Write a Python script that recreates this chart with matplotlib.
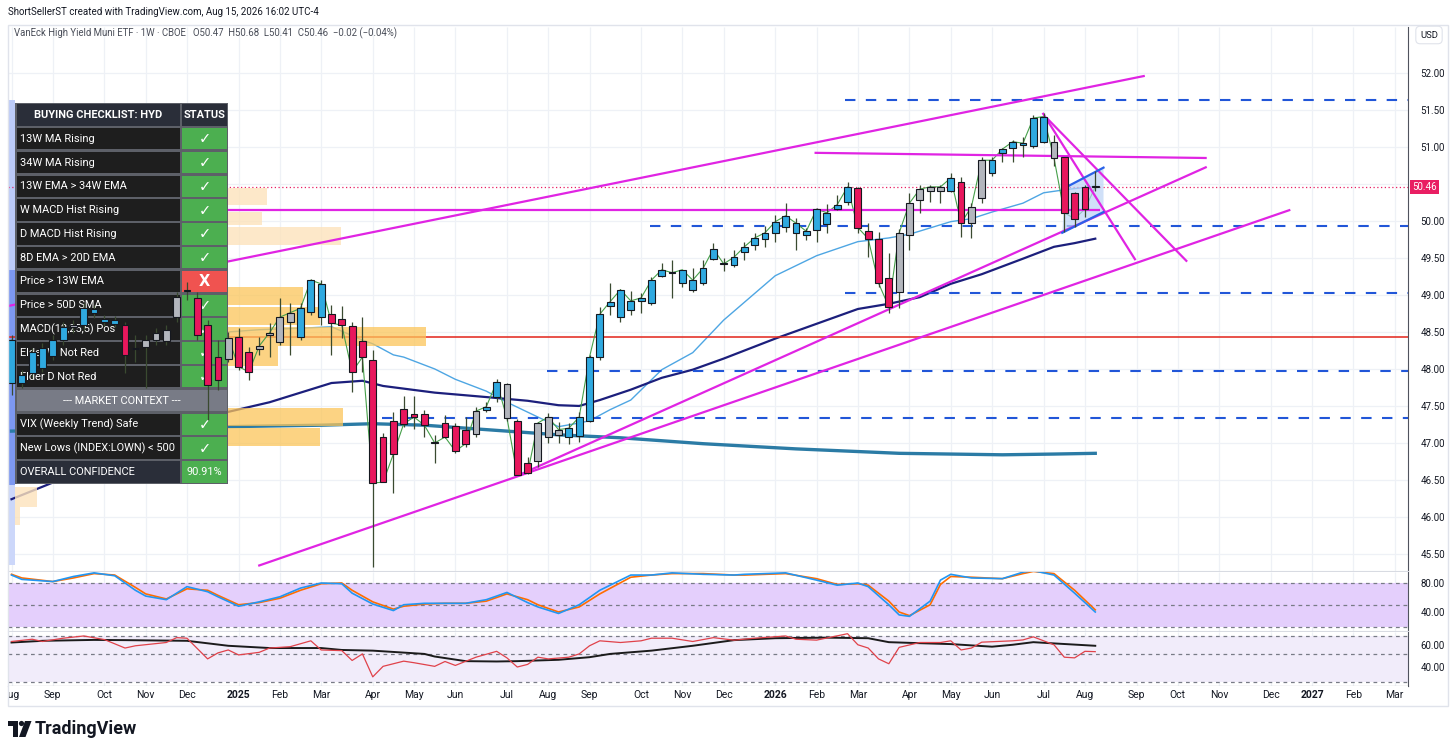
import numpy as np
import pandas as pd
import matplotlib
matplotlib.use("Agg")
import matplotlib.pyplot as plt
from matplotlib.patches import Rectangle, Polygon, Circle
from matplotlib.transforms import Affine2D

plt.rcParams['font.family'] = ['Roboto', 'DejaVu Sans']

W, H = 1456, 755
first_week = "2024-08-05"   # week index 0

# ---- weekly HYD bars (week 0 = 2024-08-05) ----
opens = [47.81, 47.81, 47.95, 48.01, 48.18, 48.39, 48.57, 48.59, 48.76, 48.64,
         48.61, 48.59, 48.28, 48.30, 48.39, 48.38, 48.70, 49.05, 48.96, 48.59,
         48.16, 48.14, 48.43, 48.23, 48.27, 48.46, 48.36, 48.64, 48.43, 48.77,
         48.70, 48.74, 48.68, 48.58, 48.38, 48.12, 47.08, 47.30, 47.46, 47.39,
         47.39, 47.00, 47.27, 47.23, 47.18, 47.12, 47.45, 47.62, 47.80, 47.30,
         46.73, 46.76, 47.08, 47.11, 47.08, 47.09, 47.30, 48.16, 48.85, 48.70,
         48.80, 48.92, 48.89, 49.26, 49.31, 49.16, 49.07, 49.16, 49.49, 49.43,
         49.41, 49.58, 49.68, 49.76, 49.84, 49.92, 49.84, 49.81, 49.88, 49.96,
         50.16, 50.26, 50.45, 49.86, 49.76, 49.23, 49.04, 49.81, 50.28, 50.41,
         50.41, 50.41, 50.53, 49.97, 50.31, 50.65, 50.92, 50.99, 51.03, 51.01,
         51.07, 51.07, 50.86, 50.38, 50.46, 50.47]
highs = [48.46, 47.99, 48.28, 48.35, 48.46, 48.64, 48.66, 48.89, 48.86, 48.73,
         48.72, 48.64, 48.46, 48.46, 48.55, 48.59, 49.04, 49.18, 49.04, 48.66,
         48.39, 48.50, 48.55, 48.30, 48.43, 48.62, 48.96, 48.89, 48.89, 49.22,
         49.20, 48.86, 48.85, 48.64, 48.70, 48.26, 47.14, 47.42, 47.64, 47.64,
         47.45, 47.11, 47.38, 47.27, 47.35, 47.49, 47.55, 47.86, 47.81, 47.32,
         46.81, 47.28, 47.41, 47.28, 47.27, 47.42, 48.19, 48.84, 49.16, 49.08,
         49.05, 49.03, 49.24, 49.43, 49.47, 49.34, 49.36, 49.47, 49.70, 49.50,
         49.61, 49.72, 49.84, 49.93, 50.08, 50.24, 50.04, 49.91, 50.18, 50.23,
         50.35, 50.53, 50.46, 49.97, 49.85, 49.57, 49.89, 50.38, 50.49, 50.49,
         50.49, 50.65, 50.59, 50.24, 50.86, 50.86, 50.99, 51.09, 51.14, 51.43,
         51.46, 51.16, 50.86, 50.39, 50.49, 50.68]
lows = [47.65, 47.74, 47.88, 47.96, 48.12, 48.32, 48.49, 48.53, 48.69, 48.58,
        48.57, 47.95, 48.09, 47.74, 48.32, 48.32, 48.64, 48.93, 48.39, 47.31,
        47.72, 48.09, 47.99, 47.85, 48.19, 48.16, 48.32, 48.19, 48.39, 48.73,
        48.59, 48.19, 48.42, 47.69, 47.96, 45.32, 46.47, 46.32, 47.22, 47.19,
        47.08, 46.73, 47.07, 46.86, 46.95, 47.08, 47.42, 47.55, 47.30, 46.57,
        46.58, 46.68, 47.00, 47.00, 46.99, 47.01, 47.28, 48.12, 48.73, 48.64,
        48.73, 48.76, 48.86, 49.24, 48.96, 49.11, 49.04, 49.14, 49.47, 49.32,
        49.38, 49.47, 49.61, 49.65, 49.72, 49.85, 49.61, 49.74, 49.72, 49.84,
        50.15, 50.22, 49.84, 49.51, 49.11, 48.76, 48.82, 49.61, 50.11, 50.26,
        50.24, 50.39, 49.78, 49.77, 50.24, 50.61, 50.80, 50.80, 50.86, 50.99,
        51.05, 50.74, 49.85, 49.92, 50.05, 50.41]
closes = [48.39, 47.92, 48.23, 48.28, 48.39, 48.57, 48.59, 48.82, 48.81, 48.68,
          48.66, 48.19, 48.27, 48.39, 48.49, 48.53, 48.97, 49.07, 48.46, 47.78,
          47.85, 48.42, 48.03, 47.96, 48.31, 48.49, 48.70, 48.76, 48.82, 49.20,
          49.15, 48.62, 48.59, 47.96, 48.16, 46.46, 46.47, 46.85, 47.26, 47.35,
          47.24, 47.00, 47.08, 46.89, 46.99, 47.43, 47.49, 47.82, 47.34, 46.57,
          46.59, 47.27, 47.35, 47.18, 47.20, 47.35, 48.16, 48.74, 48.91, 49.07,
          48.92, 48.96, 49.20, 49.34, 49.30, 49.34, 49.20, 49.36, 49.62, 49.42,
          49.51, 49.65, 49.77, 49.84, 49.99, 50.07, 49.97, 49.86, 50.16, 50.11,
          50.22, 50.46, 49.91, 49.76, 49.16, 48.84, 49.84, 50.24, 50.43, 50.46,
          50.46, 50.58, 49.97, 50.19, 50.82, 50.82, 50.97, 51.07, 51.05, 51.39,
          51.41, 50.85, 50.11, 50.03, 50.16, 50.46]
# bar colouring state: B = blue, R = red, G = grey
bar_state = ("BBBBBB" "G" "BBBB" "R" "GGGGGG" "RRR" "G" "RR" "GGGG" "BBB"
             "RRRRRRRRRR" "G" "RRR" "G" "BB" "G" "RR" "GGG" "BBBBBBBBBB" "G"
             "BBBB" "G" "BBBBBBBBBBBB" "RRRR" "GGGGG" "B" "R" "GG" "BBBBBB"
             "G" "RRR" "G")

# moving averages (week index, price)
ema_w = [21, 24, 28, 31, 34, 35, 37, 38, 41, 43, 46, 48, 51, 53, 55, 56, 58, 60, 63, 66,
         69, 74, 78, 82, 85, 87, 91, 93, 95, 98, 100, 102, 105]
ema_v = [48.50, 48.53, 48.55, 48.57, 48.39, 48.34, 48.19, 48.16, 48.00, 47.86, 47.70, 47.55,
         47.35, 47.22, 47.27, 47.30, 47.45, 47.58, 47.99, 48.22, 48.66, 49.26, 49.53, 49.72,
         49.77, 49.82, 49.99, 50.03, 50.12, 50.24, 50.38, 50.42, 50.47]
sma34_w = [0, 21, 25, 31, 34, 36, 41, 46, 50, 53, 55, 57, 60, 63, 66, 69, 74, 78, 82, 85,
           88, 91, 94, 98, 101, 103, 105]
sma34_v = [46.24, 47.42, 47.55, 47.81, 47.84, 47.77, 47.68, 47.62, 47.57, 47.51, 47.50, 47.58,
           47.72, 47.88, 47.99, 48.14, 48.41, 48.61, 48.81, 48.88, 48.97, 49.15, 49.28, 49.49,
           49.65, 49.70, 49.76]
sma200_w = [0, 21, 30, 35, 40, 46, 53, 59, 67, 76, 86, 96, 101, 105]
sma200_v = [47.16, 47.22, 47.24, 47.26, 47.24, 47.18, 47.11, 47.07, 46.99, 46.92, 46.86, 46.84,
            46.85, 46.86]

# drawings
red_level = 48.43
dash_levels = [51.64, 49.93, 49.03, 47.97, 47.34]
dash_starts = [80.8, 61.9, 80.8, 51.9, 35.9]
trend_lines = {
    "upper_channel": ([-0.34, 109.8], [48.85, 51.96]),
    "lower_channel": ([23.9, 123.9], [45.34, 50.15]),
    "mid_rising": ([48.9, 115.8], [46.55, 50.73]),
    "top_flat": ([77.8, 115.8], [50.92, 50.85]),
    "mid_flat": ([1.0, 105.5], [50.15, 50.15]),
    "desc_a": ([99.9, 108.9], [51.46, 49.47]),
    "desc_b": ([100.3, 113.9], [51.39, 49.45]),
}
flag_upper = ([102.1, 105.8], [50.45, 50.72])
flag_lower = ([101.8, 105.8], [49.84, 50.12])
last_price = 50.46

# volume profile rows
vp_top = [50.45, 50.12, 49.92, 49.11, 48.84, 48.57, 48.31, 47.47, 47.20, 46.41, 46.14]
vp_bot = [50.22, 49.95, 49.68, 48.86, 48.59, 48.31, 48.04, 47.23, 46.96, 46.14, 45.89]
vp_end = [24.8, 24.3, 31.9, 28.2, 29.9, 40.2, 25.8, 32.1, 29.9, 2.5, 0.8]
vp_dark = [False, False, False, True, True, True, True, True, True, False, False]
strip_top = [51.64, 49.34, 46.43]
strip_bot = [49.34, 46.43, 45.35]
strip_col = ['#bccbf8', '#7d98f1', '#ccd7fa']

# stochastic pane
stoch_w = [0, 1, 4, 6, 8, 10, 12, 13, 15, 17, 19, 20, 22, 24, 26, 28, 30, 32, 33, 35,
           37, 38, 40, 42, 44, 46, 48, 50, 51, 53, 55, 57, 60, 62, 64, 67, 70, 71, 75, 78,
           80, 82, 83, 85, 86, 87, 89, 90, 91, 93, 96, 98, 99, 101, 103, 105]
stoch_k = [91, 85, 82, 89, 94, 90, 70, 62, 57, 75, 68, 61, 48, 54, 61, 73, 80, 79, 66, 51,
           42, 50, 52, 52, 52, 57, 67, 53, 47, 38, 50, 70, 91, 91, 94, 92, 91, 92, 94, 84,
           77, 80, 75, 50, 36, 34, 55, 84, 92, 87, 86, 95, 97, 91, 66, 40]
stoch_d = [92, 87, 82, 87, 93, 91, 74, 65, 58, 72, 70, 63, 50, 53, 59, 70, 79, 80, 70, 54,
           44, 48, 51, 52, 52, 55, 65, 57, 50, 40, 47, 65, 88, 91, 93, 93, 91, 91, 93, 86,
           78, 79, 77, 55, 40, 35, 50, 78, 89, 88, 86, 93, 96, 93, 70, 43]

# RSI-style pane
rsi_w = [0, 2, 3, 5, 7, 9, 11, 12, 15, 16, 17, 19, 20, 21, 22, 24, 25, 27, 29, 30,
         32, 33, 34, 35, 36, 38, 39, 41, 42, 43, 45, 47, 48, 49, 50, 51, 52, 54, 55, 56,
         57, 59, 61, 62, 64, 66, 68, 70, 72, 75, 76, 78, 81, 82, 83, 84, 85, 86, 88, 90,
         91, 92, 93, 94, 97, 98, 99, 101, 102, 103, 104, 105]
rsi_v = [62.9, 64.9, 62.9, 65.8, 67.8, 64.6, 57.1, 59.1, 62.0, 66.3, 65.8, 47.5, 52.8, 55.4,
         51.0, 53.3, 57.1, 58.3, 63.5, 55.4, 54.8, 46.1, 51.9, 31.6, 40.9, 45.5, 44.1, 40.9,
         45.2, 41.7, 49.0, 54.2, 48.4, 40.3, 42.6, 49.0, 47.5, 49.0, 51.9, 59.1, 63.5, 62.0,
         63.5, 65.8, 65.8, 62.9, 66.3, 64.1, 65.8, 67.8, 64.9, 64.1, 69.8, 60.0, 57.1, 47.5,
         43.2, 57.7, 62.0, 62.0, 63.5, 55.4, 57.1, 62.3, 63.5, 64.3, 67.0, 60.0, 49.0, 48.4,
         54.2, 53.9]
sig_w = [0, 3, 8, 11, 17, 21, 25, 30, 32, 35, 40, 41, 44, 47, 49, 53, 56, 58, 62, 66,
         70, 74, 79, 83, 85, 88, 91, 95, 97, 99, 101, 105]
sig_v = [62.0, 63.5, 64.3, 64.1, 63.5, 59.1, 57.1, 57.1, 55.4, 54.8, 51.9, 49.6, 45.5, 45.2,
         45.5, 46.7, 49.0, 51.9, 54.8, 59.1, 64.1, 65.8, 66.3, 65.8, 62.3, 61.4, 60.6, 58.3,
         60.0, 62.3, 61.2, 59.1]

# checklist table
check_items = ["13W MA Rising", "34W MA Rising", "13W EMA > 34W EMA", "W MACD Hist Rising",
               "D MACD Hist Rising", "8D EMA > 20D EMA", "Price > 13W EMA", "Price > 50D SMA",
               "MACD(12,25,5) Pos", "Elder W Not Red", "Elder D Not Red"]
check_pass = [True, True, True, True, True, True, False, True, True, True, True]
context_items = ["VIX (Weekly Trend) Safe", "New Lows (INDEX:LOWN) < 500"]
context_pass = [True, True]
confidence = "90.91%"

# ---------------------------------------------------------------
fig = plt.figure(figsize=(W / 100, H / 100), dpi=100)
fig.patch.set_facecolor('white')
pix = Affine2D().scale(1.0 / W, -1.0 / H).translate(0, 1) + fig.transFigure


def box(x0, y0, x1, y1):
    return [x0 / W, 1 - y1 / H, (x1 - x0) / W, (y1 - y0) / H]


ax = fig.add_axes(box(8, 27, 1408, 571))
ax1 = fig.add_axes(box(8, 572, 1408, 631))
ax2 = fig.add_axes(box(8, 632, 1408, 686))
axd = fig.add_axes(box(8, 686, 1408, 706))
XL = (-0.34, 135.3)

# month ticks from weekly dates
wk_all = np.arange(-1, 136)
dates = pd.Timestamp(first_week) + pd.to_timedelta(7 * wk_all, unit="D")
tick_w, tick_lbl = [], []
for k in range(1, len(wk_all)):
    if dates[k].month != dates[k - 1].month:
        tick_w.append(wk_all[k])
        tick_lbl.append(str(dates[k].year) if dates[k].month == 1 else dates[k].strftime("%b"))

grid_c = '#eef1f6'
for a in (ax, ax1, ax2, axd):
    a.set_xlim(*XL)
    a.set_xticks([])
    for s in ('top', 'left'):
        a.spines[s].set_visible(False)
    a.spines['right'].set_color('#50535e')
    a.spines['bottom'].set_color('#d8dbe2')
for a in (ax, ax1, ax2):
    a.vlines(tick_w, 0, 1, transform=a.get_xaxis_transform(), colors=grid_c, lw=0.9, zorder=0)
    a.yaxis.tick_right()
    a.tick_params(axis='y', length=0, pad=9, labelsize=7, labelcolor='#131722')
ax2.spines['bottom'].set_color('#50535e')

# ---- main pane ----
ax.set_ylim(45.27, 52.62)
yt = np.arange(45.5, 52.01, 0.5)
ax.set_yticks(yt)
# 50.50 sits under the last-price tag, as on the chart
ax.set_yticklabels(["" if abs(v - 50.5) < 1e-6 else f"{v:.2f}" for v in yt])
ax.hlines(yt, 0, 1, transform=ax.get_yaxis_transform(), colors=grid_c, lw=0.9, zorder=0)

for t, b, c in zip(strip_top, strip_bot, strip_col):
    ax.add_patch(Rectangle((XL[0], b), 0.68, t - b, color=c, lw=0, zorder=1))

ax.plot(ema_w, ema_v, color='#4ea6e3', lw=1.0, zorder=2)
ax.plot(sma34_w, sma34_v, color='#1c1f7c', lw=1.6, zorder=2)
ax.plot(sma200_w, sma200_v, color='#2b7ba5', lw=2.4, zorder=2)

for t, b, e, d in zip(vp_top, vp_bot, vp_end, vp_dark):
    ax.add_patch(Rectangle((0.34, b), e - 0.34, t - b, color='#fbc55a' if d else '#fde3bc',
                           alpha=0.75 if d else 0.8, lw=0, zorder=3))

ax.axhline(red_level, color='#e2231a', lw=1.1, zorder=2.5)
for lv, st in zip(dash_levels, dash_starts):
    ax.hlines(lv, st, XL[1], colors='#2156d8', lw=1.5, linestyles=(0, (5, 5)), zorder=2.5)
for xs, ys in trend_lines.values():
    ax.plot(xs, ys, color='#e024e3', lw=1.6, zorder=3.8, solid_capstyle='butt')
ax.add_patch(Polygon([(flag_upper[0][0], flag_upper[1][0]), (flag_upper[0][1], flag_upper[1][1]),
                      (flag_lower[0][1], flag_lower[1][1]), (flag_lower[0][0], flag_lower[1][0])],
                     closed=True, fc='#bcd4f6', ec='none', alpha=0.7, zorder=3.7))
ax.plot(*flag_upper, color='#2a62e8', lw=1.6, zorder=3.9)
ax.plot(*flag_lower, color='#2a62e8', lw=1.6, zorder=3.9)
ax.axhline(last_price, color='#e91e63', lw=0.9, ls=(0, (1, 2)), zorder=2.5)

# candles
o, h, l, c = map(np.array, (opens, highs, lows, closes))
wk = np.arange(len(o))
body_colors = {'B': '#2fa9e0', 'R': '#e8175d', 'G': '#b3b6bd'}
ax.plot(wk, c, color='#46a04a', lw=0.8, zorder=3.5)
ax.vlines(wk, l, h, colors='#3a4a30', lw=0.9, zorder=5)
ax.bar(wk, np.maximum(np.abs(c - o), 0.012), width=0.66, bottom=np.minimum(o, c),
       color=[body_colors[s] for s in bar_state], edgecolor='#15181f', linewidth=0.8, zorder=6)

# checklist table (pixel coordinates)
tx0, tx1, tsplit, ttop, rh = 15, 228, 181, 103, 23.8
rows = [("BUYING CHECKLIST: HYD", "STATUS", 'head')]
rows += [(t, "\u2713" if p else "X", p) for t, p in zip(check_items, check_pass)]
rows += [("--- MARKET CONTEXT ---", None, 'ctx')]
rows += [(t, "\u2713" if p else "X", p) for t, p in zip(context_items, context_pass)]
rows += [("OVERALL CONFIDENCE", confidence, 'total')]
ax.add_patch(Rectangle((tx0, ttop), tx1 - tx0, rh * len(rows), transform=pix, fc='#5d6068',
                       ec='none', zorder=4, clip_on=False))
fs = 7.9
for i, (lab, val, kind) in enumerate(rows):
    y0 = ttop + i * rh + 1.2
    hh = rh - 2.4
    yc = ttop + (i + 0.5) * rh
    tk = dict(transform=pix, zorder=4.5, clip_on=False, color='white', va='center')
    if kind == 'ctx':
        ax.add_patch(Rectangle((tx0 + 1.5, y0), tx1 - tx0 - 3, hh, transform=pix, fc='#787b86',
                               ec='none', zorder=4.2, clip_on=False))
        ax.text((tx0 + tx1) / 2, yc, lab, ha='center', fontsize=fs, **tk)
        continue
    lc = '#2a2e39' if kind in ('head', 'total') else '#1e1e1e'
    rc = '#2a2e39' if kind == 'head' else ('#f05350' if kind is False else '#4caf50')
    ax.add_patch(Rectangle((tx0 + 1.5, y0), tsplit - tx0 - 2.5, hh, transform=pix, fc=lc,
                           ec='none', zorder=4.2, clip_on=False))
    ax.add_patch(Rectangle((tsplit + 1, y0), tx1 - tsplit - 2.5, hh, transform=pix, fc=rc,
                           ec='none', zorder=4.2, clip_on=False))
    if kind == 'head':
        ax.text((tx0 + tsplit) / 2, yc, lab, ha='center', fontweight='bold', fontsize=fs, **tk)
        ax.text((tsplit + tx1) / 2, yc, val, ha='center', fontweight='bold', fontsize=fs, **tk)
    elif kind == 'total':
        ax.text(tx0 + 5, yc, lab, ha='left', fontsize=fs, **tk)
        ax.text((tsplit + tx1) / 2, yc, val, ha='center', fontsize=fs, **tk)
    else:
        ax.text(tx0 + 5, yc, lab, ha='left', fontsize=fs, **tk)
        ax.text((tsplit + tx1) / 2, yc, val, ha='center', fontweight='bold', fontsize=10.5,
                family=['DejaVu Sans'], **tk)

# ---- stochastic pane ----
ax1.set_ylim(13.8, 95.2)
ax1.set_yticks([80, 40])
ax1.set_yticklabels(["80.00", "40.00"])
ax1.axhline(40, color=grid_c, lw=0.9, zorder=0)
ax1.axhspan(20, 80, color='#e4cffc', lw=0, zorder=0.5)
for lv in (80, 50, 20):
    ax1.axhline(lv, color='#787b86', lw=0.9, ls=(0, (3, 3)), zorder=1)
ax1.plot(stoch_w, stoch_k, color='#2196f3', lw=1.2, zorder=3)
ax1.plot(stoch_w, stoch_d, color='#ff6d00', lw=1.2, zorder=2.5)

# ---- RSI pane ----
ax2.set_ylim(23.5, 71.3)
ax2.set_yticks([60, 40])
ax2.set_yticklabels(["60.00", "40.00"])
ax2.hlines([60, 40], 0, 1, transform=ax2.get_yaxis_transform(), colors=grid_c, lw=0.9, zorder=0)
ax2.axhspan(27.0, 67.8, color='#f1ecfa', lw=0, zorder=0.5)
for lv in (67.8, 52.2, 27.0):
    ax2.axhline(lv, color='#787b86', lw=0.9, ls=(0, (3, 3)), zorder=1)
ax2.plot(rsi_w, rsi_v, color='#e0424a', lw=0.9, zorder=3)
ax2.plot(sig_w, sig_v, color='#1b1b1b', lw=1.4, zorder=2.8)

# ---- date strip ----
axd.set_ylim(0, 1)
axd.set_yticks([])
axd.spines['bottom'].set_visible(False)
axd.spines['right'].set_visible(False)
for w, lb in zip(tick_w, tick_lbl):
    axd.text(w, 0.55, lb, ha='center', va='center', fontsize=7.5, color='#131722',
             fontweight='bold' if lb.isdigit() else 'normal', clip_on=True)

# ---- chrome ----
fig.add_artist(Rectangle((8, 25), 1440, 681, transform=pix, fill=False, ec='#e0e3eb', lw=1))
fig.text(8 / W, 1 - 12 / H, "ShortSellerST created with TradingView.com, Aug 15, 2026 16:02 UTC-4",
         fontsize=7.0, color='#131722', va='center', ha='left')
fig.text(14 / W, 1 - 33 / H,
         "VanEck High Yield Muni ETF \u00b7 1W \u00b7 CBOE   O50.47  H50.68  L50.41  C50.46  \u22120.02 (\u22120.04%)",
         fontsize=6.9, color='#4a4e59', va='center', ha='left')
fig.text(1429 / W, 1 - 35 / H, "USD", fontsize=6.8, color='#131722', ha='center', va='center',
         bbox=dict(boxstyle='round,pad=0.45', fc='white', ec='#e0e3eb', lw=0.8))
fig.text(1412 / W, 1 - 187 / H, f"{last_price:.2f}", fontsize=7, color='white', ha='left',
         va='center', bbox=dict(boxstyle='square,pad=0.25', fc='#e91e63', ec='none'))

# TradingView logo
fig.add_artist(Rectangle((8, 721), 10, 4.5, transform=pix, fc='#131722', ec='none'))
fig.add_artist(Rectangle((13, 721), 5, 16, transform=pix, fc='#131722', ec='none'))
fig.add_artist(Circle((21.5, 723.5), 2.6, transform=pix, fc='#131722', ec='none'))
fig.add_artist(Polygon([(25, 721), (31.5, 721), (25.5, 737), (19, 737)], closed=True,
                       transform=pix, fc='#131722', ec='none'))
fig.text(35 / W, 1 - 729 / H, "TradingView", fontsize=13, fontweight='bold', color='#131722',
         va='center', ha='left')

fig.savefig("out.png", dpi=100)
